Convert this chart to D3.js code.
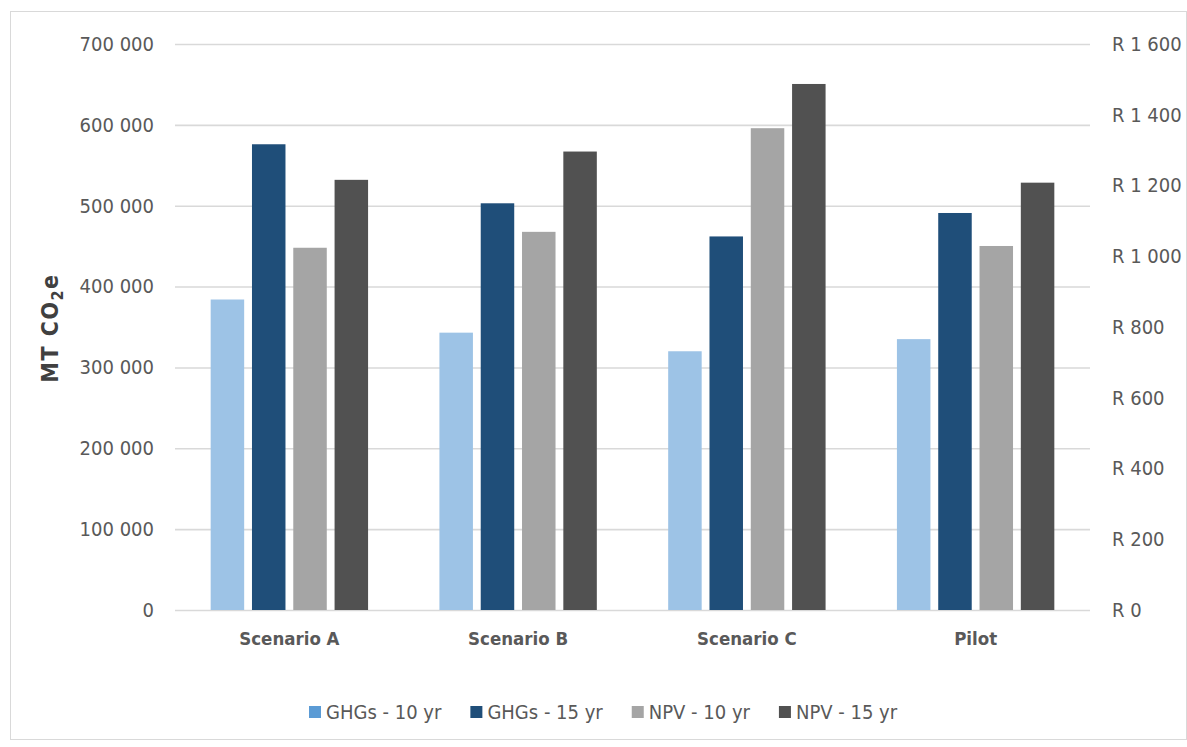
<!DOCTYPE html>
<html><head><meta charset="utf-8">
<script src="https://cdn.jsdelivr.net/npm/d3@7"></script>
<style>
html,body{margin:0;padding:0;background:#fff;}
svg text{font-family:"DejaVu Sans Condensed","DejaVu Sans",sans-serif;}
</style></head>
<body>
<svg id="chart" width="1187" height="747"></svg>
<script>
const categories = ["Scenario A","Scenario B","Scenario C","Pilot"];
const seriesNames = ["GHGs - 10 yr","GHGs - 15 yr","NPV - 10 yr","NPV - 15 yr"];
const seriesAxis = ["left","left","right","right"];
const seriesColors = ["#9DC3E6","#1F4E79","#A5A5A5","#515151"];
const ghg10 = [384000, 343000, 320000, 335000];
const ghg15 = [576000, 503000, 462000, 491000];
const npv10 = [1024, 1069, 1362, 1029];
const npv15 = [1216, 1296, 1487, 1208];
const seriesValues = [ghg10, ghg15, npv10, npv15];
const leftTicks = [0,100000,200000,300000,400000,500000,600000,700000];
const rightTicks = [0,200,400,600,800,1000,1200,1400,1600];

const svg = d3.select("#chart");
const plot = {left:175, right:1090, top:44, bottom:610};

// border
svg.append("rect").attr("x",10.5).attr("y",11.5).attr("width",1176).attr("height",728)
  .attr("fill","none").attr("stroke","#d9d9d9").attr("stroke-width",1);

const x0 = d3.scaleBand().domain(categories).range([plot.left, plot.right]).padding(0);
const stepBar = 41.3, gap = 7.8;
const groupW = stepBar*seriesNames.length - gap;
const x1 = d3.scaleBand().domain(seriesNames).range([0, groupW]).paddingInner(gap/stepBar).paddingOuter(0);
const yL = d3.scaleLinear().domain([0,700000]).range([plot.bottom, plot.top]);
const yR = d3.scaleLinear().domain([0,1600]).range([plot.bottom, plot.top]);

const fmtL = d => d3.format(",")(d).replace(/,/g," ");
const fmtR = d => "R " + d3.format(",")(d).replace(/,/g," ");

// gridlines
const grid = svg.append("g").attr("transform",`translate(${plot.left},0)`)
  .call(d3.axisLeft(yL).tickValues(leftTicks).tickSize(-(plot.right-plot.left)).tickFormat(""));
grid.select(".domain").remove();
grid.selectAll("line").attr("stroke","#d9d9d9").attr("stroke-width",1.6);

// left axis labels
const axL = svg.append("g").attr("transform",`translate(${plot.left},0)`)
  .call(d3.axisLeft(yL).tickValues(leftTicks).tickSize(0).tickPadding(21).tickFormat(fmtL));
axL.select(".domain").remove();
axL.selectAll("text").attr("fill","#595959").style("font-size","20px");

// right axis labels
const axR = svg.append("g").attr("transform",`translate(${plot.right},0)`)
  .call(d3.axisRight(yR).tickValues(rightTicks).tickSize(0).tickPadding(22).tickFormat(fmtR));
axR.select(".domain").remove();
axR.selectAll("text").attr("fill","#595959").style("font-size","20px");

// bars
const groups = svg.append("g").selectAll("g").data(categories).join("g")
  .attr("transform", c => `translate(${x0(c) + x0.bandwidth()/2 - groupW/2},0)`);
groups.selectAll("rect").data((c,ci) => seriesNames.map((s,si) => ({s, si, v: seriesValues[si][ci]})))
  .join("rect")
  .attr("x", d => x1(d.s))
  .attr("width", x1.bandwidth())
  .attr("y", d => (seriesAxis[d.si]==="left" ? yL : yR)(d.v))
  .attr("height", d => plot.bottom - (seriesAxis[d.si]==="left" ? yL : yR)(d.v))
  .attr("fill", d => seriesColors[d.si]);

// x axis labels
const axX = svg.append("g").attr("transform",`translate(0,${plot.bottom})`)
  .call(d3.axisBottom(x0).tickSize(0).tickPadding(22));
axX.select(".domain").remove();
axX.selectAll("text").attr("fill","#595959").style("font-size","18.5px").style("font-weight","bold");

// y axis title
const title = svg.append("text").attr("transform","translate(58,328) rotate(-90)")
  .attr("text-anchor","middle").attr("fill","#404040")
  .style("font-size","23px").style("font-weight","bold").style("letter-spacing","1.5px");
title.append("tspan").text("MT CO");
title.append("tspan").text("2").style("font-size","16px").attr("dy",5);
title.append("tspan").text("e").attr("dy",-5);

// legend
const legend = svg.append("g").attr("transform","translate(309,712)");
let lx = 0;
seriesNames.forEach((s,i) => {
  const g = legend.append("g").attr("transform",`translate(${lx},0)`);
  g.append("rect").attr("x",0).attr("y",-6).attr("width",12).attr("height",12).attr("fill", i===0 ? "#5B9BD5" : seriesColors[i]);
  const t = g.append("text").attr("x",17).attr("y",0).attr("dy","0.35em")
    .attr("fill","#595959").style("font-size","20px").text(s);
  lx += 17 + t.node().getComputedTextLength() + 29;
});
</script>
</body></html>
